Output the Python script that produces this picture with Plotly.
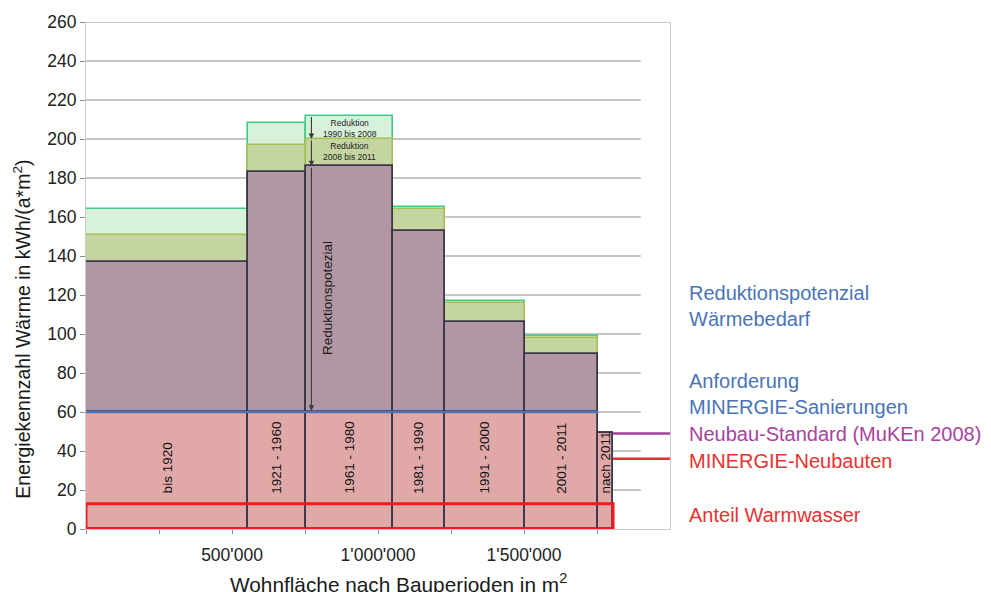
import numpy as np
import plotly.graph_objects as go

# ---------------- data ----------------
periods = ["bis 1920", "1921 - 1960", "1961 - 1980", "1981 - 1990",
           "1991 - 2000", "2001 - 2011", "nach 2011"]
wohnflaeche = [555000, 197000, 301000, 175000, 274000, 252000, 51000]   # m2 per period
ekz_2011 = [137, 183, 186, 153, 106, 90, 49]        # kWh/(a*m2) today
ekz_2008 = [151, 197, 200, 164, 116, 98, None]      # before reduction 2008-2011
ekz_1990 = [164, 208, 212, 165, 117, 99, None]      # before reduction 1990-2008

minergie_sanierung = 60   # Anforderung MINERGIE-Sanierungen
muken_2008 = 49           # Neubau-Standard (MuKEn 2008)
minergie_neubau = 36      # MINERGIE-Neubauten
warmwasser = 13           # Anteil Warmwasser

y_ticks = list(range(0, 261, 20))
x_tick_values = [0, 250000, 500000, 750000, 1000000, 1250000, 1500000, 1750000]
x_tick_labels = ["", "", "500'000", "", "1'000'000", "", "1'500'000", ""]
x_max = 2000000
grid_end = 1900000

# ---------------- derived ----------------
w = np.array(wohnflaeche, dtype=float)
right = np.cumsum(w)
left = right - w
centers = left + w / 2
ekz_2011_arr = np.array(ekz_2011, dtype=float)
pink_tops = np.minimum(ekz_2011_arr, minergie_sanierung)

FONT = "Arial, 'Liberation Sans', sans-serif"
DARK = "#3b3748"

fig = go.Figure()

fig.add_bar(x=centers, y=ekz_1990, width=w,
            marker=dict(color="#d8f1da", line=dict(color="#3fcb88", width=1.6)),
            hoverinfo="skip", showlegend=False)
fig.add_bar(x=centers, y=ekz_2008, width=w,
            marker=dict(color="#c5d5a0", line=dict(color="#a3c055", width=1.6)),
            hoverinfo="skip", showlegend=False)
fig.add_bar(x=centers, y=ekz_2011_arr, width=w,
            marker=dict(color="#b396a4", line=dict(color=DARK, width=1.8)),
            hoverinfo="skip", showlegend=False)
fig.add_bar(x=centers, y=pink_tops, width=w,
            marker=dict(color="#e0a9a8", line=dict(color=DARK, width=1.8)),
            hoverinfo="skip", showlegend=False)

# reference lines
fig.add_scatter(x=[0, right[-2]], y=[minergie_sanierung] * 2, mode="lines",
                line=dict(color="#4a73b9", width=2.6), hoverinfo="skip", showlegend=False)
fig.add_scatter(x=[right[-1], x_max], y=[muken_2008] * 2, mode="lines",
                line=dict(color="#a3409b", width=2.6), hoverinfo="skip", showlegend=False)
fig.add_scatter(x=[right[-1], x_max], y=[minergie_neubau] * 2, mode="lines",
                line=dict(color="#f02a2a", width=2.6), hoverinfo="skip", showlegend=False)

shapes = []
for v in y_ticks[1:-1]:
    shapes.append(dict(type="line", xref="x", yref="y", x0=0, x1=grid_end, y0=v, y1=v,
                       line=dict(color="#8e8e8e", width=1), layer="below"))
shapes.append(dict(type="line", xref="paper", yref="y", x0=0, x1=1, y0=y_ticks[-1], y1=y_ticks[-1],
                   line=dict(color="#8e8e8e", width=1.2), layer="below"))
shapes.append(dict(type="rect", xref="x", yref="y", x0=0, x1=right[-1], y0=0, y1=warmwasser,
                   line=dict(color="#f21c1c", width=3), layer="above"))

annotations = []
# period labels
for c, p in zip(centers, periods):
    annotations.append(dict(x=c, y=17, xref="x", yref="y", text=p, textangle=-90,
                            showarrow=False, xanchor="center", yanchor="bottom",
                            font=dict(size=13.5, color="#111111", family=FONT)))

# reduction arrows
arrow_x = 772000
for tail, head in [(ekz_1990[2], ekz_2008[2]), (ekz_2008[2], ekz_2011[2]),
                   (ekz_2011[2], minergie_sanierung + 0.6)]:
    annotations.append(dict(x=arrow_x, y=head, ax=arrow_x, ay=tail, xref="x", yref="y",
                            axref="x", ayref="y", text="", showarrow=True,
                            arrowhead=2, arrowsize=1.0, arrowwidth=1.1, arrowcolor="#3a3a3a",
                            standoff=0, startstandoff=0))
annotations.append(dict(x=829000, y=118.5, xref="x", yref="y", text="Reduktionspotezial",
                        textangle=-90, showarrow=False,
                        font=dict(size=13.5, color="#1a1a1a", family=FONT)))
annotations.append(dict(x=centers[2], y=205.3, xref="x", yref="y",
                        text="Reduktion<br>1990 bis 2008", showarrow=False,
                        font=dict(size=8.5, color="#222222", family=FONT)))
annotations.append(dict(x=centers[2], y=193.6, xref="x", yref="y",
                        text="Reduktion<br>2008 bis 2011", showarrow=False,
                        font=dict(size=8.5, color="#222222", family=FONT)))

# right-side explanations
right_x = 1.0285
blue = "#4a74b8"
for txt, yv, col in [("Reduktionspotenzial<br>Wärmebedarf", 114.2, blue),
                     ("Anforderung<br>MINERGIE-Sanierungen", 69.3, blue),
                     ("Neubau-Standard (MuKEn 2008)", 48.8, "#a8429e"),
                     ("MINERGIE-Neubauten", 35.0, "#e83232"),
                     ("Anteil Warmwasser", 7.3, "#e83232")]:
    annotations.append(dict(x=right_x, y=yv, xref="paper", yref="y", text=txt,
                            showarrow=False, xanchor="left", yanchor="middle", align="left",
                            font=dict(size=20, color=col, family=FONT)))

# axis titles
annotations.append(dict(x=-0.1096, y=0.395, xref="paper", yref="paper",
                        text="Energiekennzahl Wärme in kWh/(a*m<sup>2</sup>)", textangle=-90,
                        showarrow=False, xanchor="center", yanchor="middle",
                        font=dict(size=19.5, color="#1a1a1a", family=FONT)))
annotations.append(dict(x=0.535, y=-0.106, xref="paper", yref="paper",
                        text="Wohnfläche nach Bauperioden in m<sup>2</sup>",
                        showarrow=False, xanchor="center", yanchor="middle",
                        font=dict(size=20.8, color="#1a1a1a", family=FONT)))

# page body has an 8px margin: figure is 983x584, plot area 584x507
fig.update_layout(
    width=983, height=584,
    margin=dict(l=78, r=321, t=14, b=63, autoexpand=False),
    paper_bgcolor="white", plot_bgcolor="white",
    barmode="overlay", bargap=0,
    font=dict(family=FONT, color="#222222"),
    shapes=shapes, annotations=annotations,
    showlegend=False,
)
fig.update_xaxes(range=[0, x_max], tickmode="array", tickvals=x_tick_values,
                 ticktext=x_tick_labels, ticks="outside", ticklen=4, tickcolor="#8e8e8e",
                 showgrid=False, zeroline=False, showline=True, linecolor="#c8c8c8",
                 linewidth=1, tickfont=dict(size=17.5, color="#222222", family=FONT),
                 ticklabelstandoff=6, automargin=False)
fig.update_yaxes(range=[0, 260], tickmode="array", tickvals=y_ticks,
                 ticks="outside", ticklen=5, tickcolor="#8e8e8e",
                 showgrid=False, zeroline=False, showline=True, linecolor="#cccccc",
                 linewidth=1, mirror=True, automargin=False,
                 tickfont=dict(size=17.5, color="#222222", family=FONT))

fig.write_html("out.html")
